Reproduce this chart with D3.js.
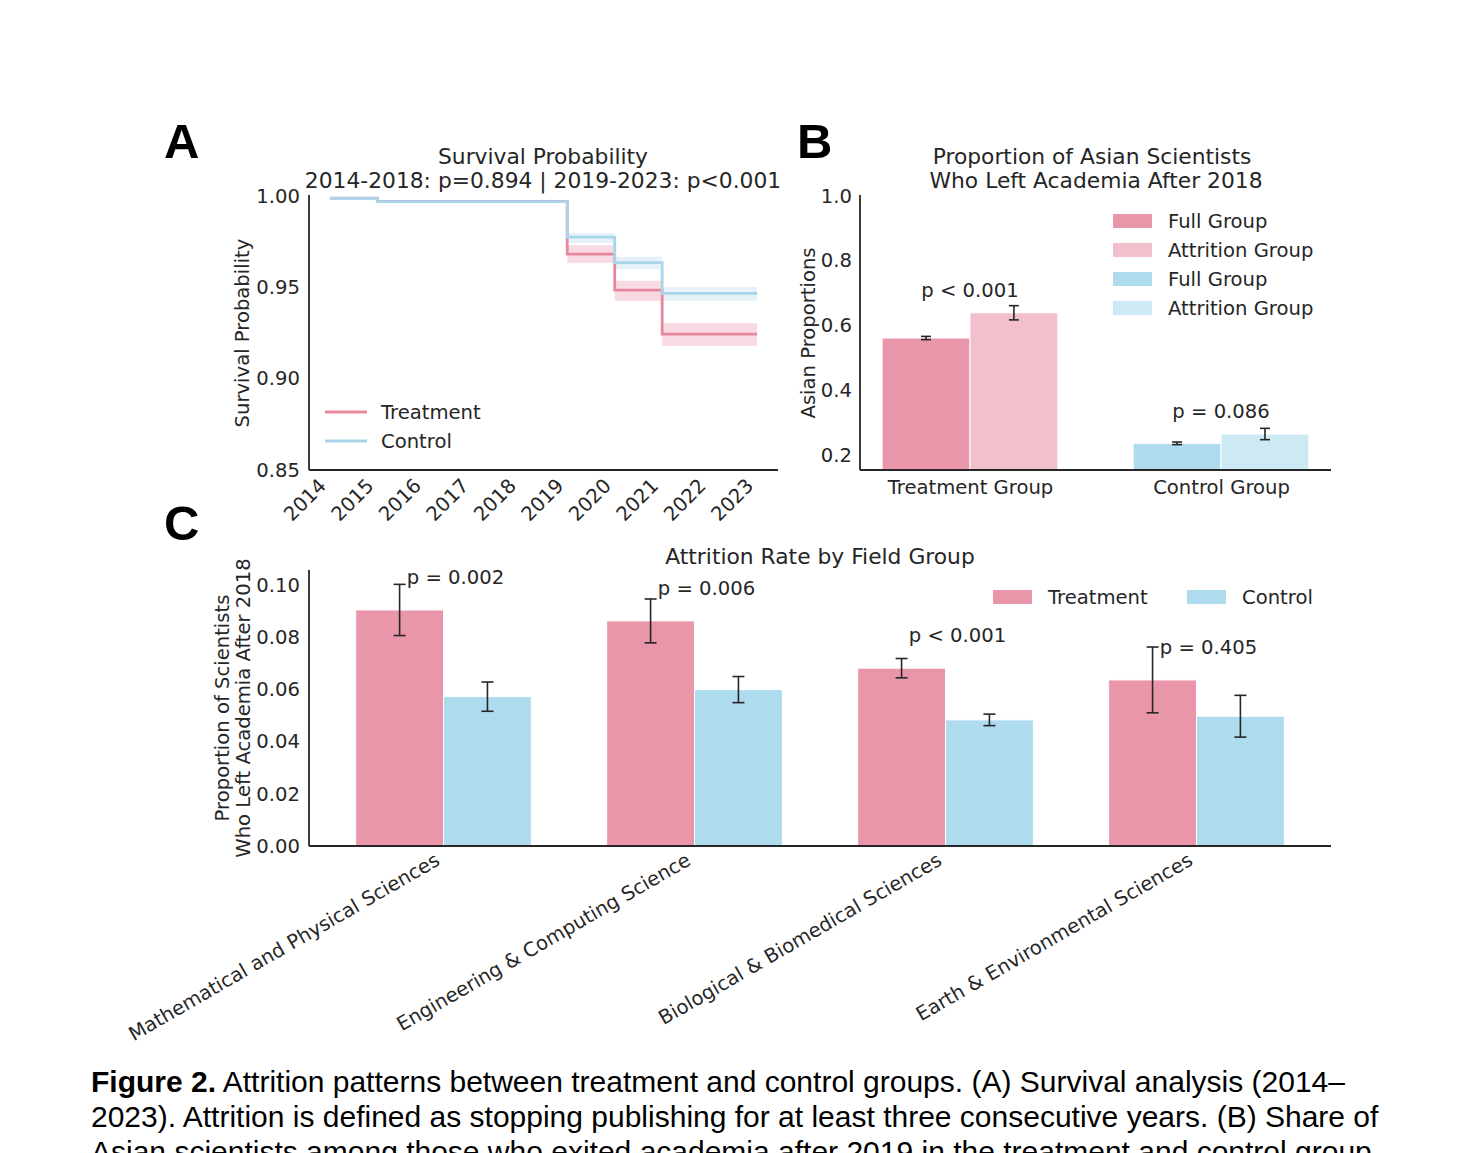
<!DOCTYPE html>
<html>
<head>
<meta charset="utf-8">
<script src="https://cdn.jsdelivr.net/npm/d3@7"></script>
<style>
  body { margin: 0; background: #fff; }
  svg text { font-family: "DejaVu Sans", sans-serif; fill: #262626; }
  svg text.caption { font-family: "Liberation Sans", Arial, sans-serif; fill: #000; }
  svg text.letter { font-family: "Liberation Sans", Arial, sans-serif; font-weight: bold; fill: #000; }
</style>
</head>
<body>
<script>
// ---- panel A: survival curves (step after each year) ----
const years = [2014, 2015, 2016, 2017, 2018, 2019, 2020, 2021, 2022, 2023]
const treatSurv = [0.9988, 0.9970, 0.9970, 0.9970, 0.9970, 0.9682, 0.9485, 0.9244, 0.9244, 0.9244]
const treatLo   = [0.9984, 0.9962, 0.9962, 0.9962, 0.9962, 0.9635, 0.9427, 0.9179, 0.9179, 0.9179]
const treatHi   = [0.9992, 0.9978, 0.9978, 0.9978, 0.9978, 0.9730, 0.9536, 0.9303, 0.9303, 0.9303]
const ctrlSurv  = [0.9987, 0.9969, 0.9969, 0.9969, 0.9969, 0.9775, 0.9635, 0.9467, 0.9467, 0.9467]
const ctrlLo    = [0.9984, 0.9964, 0.9964, 0.9964, 0.9964, 0.9743, 0.9599, 0.9427, 0.9427, 0.9427]
const ctrlHi    = [0.9990, 0.9974, 0.9974, 0.9974, 0.9974, 0.9797, 0.9668, 0.9502, 0.9502, 0.9502]
const survTicks = [0.85, 0.90, 0.95, 1.00]

// ---- panel B: asian share ----
const groupsB = ['Treatment Group', 'Control Group']
const fullProp = [0.561, 0.2355]
const fullErr = [0.005, 0.004]
const attrProp = [0.639, 0.2643]
const attrErr = [0.022, 0.0175]
const pLabelsB = ['p < 0.001', 'p = 0.086']
const propTicks = [0.2, 0.4, 0.6, 0.8, 1.0]

// ---- panel C: attrition by field ----
const fields = ['Mathematical and Physical Sciences', 'Engineering & Computing Science',
  'Biological & Biomedical Sciences', 'Earth & Environmental Sciences']
const treatRate = [0.0904, 0.0862, 0.0681, 0.0636]
const treatRateErr = [0.0098, 0.0084, 0.0037, 0.0126]
const ctrlRate = [0.0572, 0.0599, 0.0483, 0.0497]
const ctrlRateErr = [0.0056, 0.0050, 0.0022, 0.0080]
const pLabelsC = ['p = 0.002', 'p = 0.006', 'p < 0.001', 'p = 0.405']
const rateTicks = [0.00, 0.02, 0.04, 0.06, 0.08, 0.10]

const pink = '#e995aa', pinkLight = '#f2bfcc', blue = '#aedbee', blueLight = '#cde9f3'
const pinkLine = '#e8889f', blueLine = '#a9d5ea'
const ink = '#262626'
const fs = '19.6px', titleFs = '21.8px'

const svg = d3.select('body').append('svg')
    .attr('width', 1476)
    .attr('height', 1153)

svg.append('rect').attr('width', 1476).attr('height', 1153).attr('fill', '#fff')

// helper for axis styling: no tick marks, dark spine
function styleAxis(g) {
  g.select('.domain').attr('stroke', ink).attr('stroke-width', 1.8)
  g.selectAll('.tick line').remove()
  g.selectAll('.tick text').attr('fill', ink).style('font-size', fs)
    .style('font-family', '"DejaVu Sans", sans-serif')
}

function errBar(g, x, y0, y1, cap) {
  g.append('line').attr('x1', x).attr('x2', x).attr('y1', y0).attr('y2', y1)
    .attr('stroke', ink).attr('stroke-width', 1.6)
  ;[y0, y1].forEach(y => g.append('line').attr('x1', x - cap).attr('x2', x + cap)
    .attr('y1', y).attr('y2', y).attr('stroke', ink).attr('stroke-width', 1.6))
}

// panel letters
svg.append('text').attr('class', 'letter').attr('x', 164).attr('y', 158).attr('font-size', '49px').text('A')
svg.append('text').attr('class', 'letter').attr('x', 797).attr('y', 158).attr('font-size', '49px').text('B')
svg.append('text').attr('class', 'letter').attr('x', 164).attr('y', 540).attr('font-size', '49px').text('C')

// ================= panel A =================
const xA = d3.scaleLinear().domain([2013.56, 2023.44]).range([309, 778])
const yA = d3.scaleLinear().domain([0.85, 1.0]).range([470, 196])

const gA = svg.append('g')

const band = (lo, hi) => d3.area().curve(d3.curveStepAfter)
    .x((d, i) => xA(years[i])).y0((d, i) => yA(lo[i])).y1((d, i) => yA(hi[i]))
const stepLine = vals => d3.line().curve(d3.curveStepAfter)
    .x((d, i) => xA(years[i])).y((d, i) => yA(vals[i]))

gA.append('path').datum(years).attr('d', band(treatLo, treatHi)).attr('fill', pinkLine).attr('opacity', 0.3)
gA.append('path').datum(years).attr('d', band(ctrlLo, ctrlHi)).attr('fill', blueLine).attr('opacity', 0.3)
gA.append('path').datum(years).attr('d', stepLine(treatSurv))
    .attr('fill', 'none').attr('stroke', pinkLine).attr('stroke-width', 2.8)
gA.append('path').datum(years).attr('d', stepLine(ctrlSurv))
    .attr('fill', 'none').attr('stroke', blueLine).attr('stroke-width', 2.8)

const yAxisA = gA.append('g').attr('transform', 'translate(309,0)')
    .call(d3.axisLeft(yA).tickValues(survTicks).tickFormat(d3.format('.2f')).tickSize(0).tickPadding(9))
styleAxis(yAxisA)
yAxisA.select('.domain').attr('d', 'M0,470V195')

const xAxisA = gA.append('g').attr('transform', 'translate(0,470)')
    .call(d3.axisBottom(xA).tickValues(years).tickFormat(d3.format('d')).tickSize(0))
styleAxis(xAxisA)
xAxisA.select('.domain').attr('d', 'M309,0H778')
xAxisA.selectAll('.tick text')
    .attr('x', 0).attr('y', 0).attr('dy', 0)
    .attr('text-anchor', 'end')
    .attr('transform', 'translate(-3,17) rotate(-45)')

gA.append('text').attr('x', 543).attr('y', 164).attr('text-anchor', 'middle')
    .attr('font-size', titleFs).text('Survival Probability')
gA.append('text').attr('x', 543).attr('y', 188).attr('text-anchor', 'middle')
    .attr('font-size', titleFs).text('2014-2018: p=0.894 | 2019-2023: p<0.001')
gA.append('text').attr('transform', 'translate(249,333) rotate(-90)').attr('text-anchor', 'middle')
    .attr('font-size', fs).text('Survival Probability')

// legend A
;[['Treatment', pinkLine, 412], ['Control', blueLine, 441]].forEach(([lab, col, y]) => {
  gA.append('line').attr('x1', 325).attr('x2', 367).attr('y1', y).attr('y2', y)
    .attr('stroke', col).attr('stroke-width', 2.8)
  gA.append('text').attr('x', 381).attr('y', y + 7).attr('font-size', fs).text(lab)
})

// ================= panel B =================
const xB = d3.scaleLinear().domain([-0.438, 1.438]).range([860, 1331])
const yB = d3.scaleLinear().domain([0.153, 1.0]).range([470, 196])
const bw = 0.35
const gB = svg.append('g')

groupsB.forEach((grp, i) => {
  const cFull = i === 0 ? pink : blue
  const cAttr = i === 0 ? pinkLight : blueLight
  gB.append('rect').attr('x', xB(i - bw)).attr('width', xB(bw) - xB(0))
    .attr('y', yB(fullProp[i])).attr('height', yB(0.153) - yB(fullProp[i]))
    .attr('fill', cFull).attr('stroke', '#fff').attr('stroke-width', 1)
  gB.append('rect').attr('x', xB(i)).attr('width', xB(bw) - xB(0))
    .attr('y', yB(attrProp[i])).attr('height', yB(0.153) - yB(attrProp[i]))
    .attr('fill', cAttr).attr('stroke', '#fff').attr('stroke-width', 1)
  errBar(gB, xB(i - bw / 2), yB(fullProp[i] + fullErr[i]), yB(fullProp[i] - fullErr[i]), 5)
  errBar(gB, xB(i + bw / 2), yB(attrProp[i] + attrErr[i]), yB(attrProp[i] - attrErr[i]), 5)
  gB.append('text').attr('x', xB(i)).attr('y', yB(Math.max(fullProp[i], attrProp[i]) + 0.05))
    .attr('text-anchor', 'middle').attr('font-size', fs).text(pLabelsB[i])
})

const yAxisB = gB.append('g').attr('transform', 'translate(860,0)')
    .call(d3.axisLeft(yB).tickValues(propTicks).tickFormat(d3.format('.1f')).tickSize(0).tickPadding(8))
styleAxis(yAxisB)
yAxisB.select('.domain').attr('d', 'M0,470V195')

const xAxisB = gB.append('g').attr('transform', 'translate(0,470)')
    .call(d3.axisBottom(xB).tickValues([0, 1]).tickFormat(i => groupsB[i]).tickSize(0).tickPadding(10))
styleAxis(xAxisB)
xAxisB.select('.domain').attr('d', 'M860,0H1331')

gB.append('text').attr('x', 1092).attr('y', 164).attr('text-anchor', 'middle')
    .attr('font-size', titleFs).text('Proportion of Asian Scientists')
gB.append('text').attr('x', 1096).attr('y', 188).attr('text-anchor', 'middle')
    .attr('font-size', titleFs).text('Who Left Academia After 2018')
gB.append('text').attr('transform', 'translate(815,333) rotate(-90)').attr('text-anchor', 'middle')
    .attr('font-size', fs).text('Asian Proportions')

// legend B
const legB = [['Full Group', pink], ['Attrition Group', pinkLight], ['Full Group', blue], ['Attrition Group', blueLight]]
legB.forEach(([lab, col], i) => {
  const y = 221 + i * 29
  gB.append('rect').attr('x', 1113).attr('y', y - 7).attr('width', 39).attr('height', 14).attr('fill', col)
  gB.append('text').attr('x', 1168).attr('y', y + 7).attr('font-size', fs).text(lab)
})

// ================= panel C =================
const xC = d3.scaleLinear().domain([-0.536, 3.536]).range([309, 1331])
const yC = d3.scaleLinear().domain([0, 0.1057]).range([846, 570])
const gC = svg.append('g')

fields.forEach((f, i) => {
  gC.append('rect').attr('x', xC(i - bw)).attr('width', xC(bw) - xC(0))
    .attr('y', yC(treatRate[i])).attr('height', yC(0) - yC(treatRate[i]))
    .attr('fill', pink).attr('stroke', '#fff').attr('stroke-width', 1)
  gC.append('rect').attr('x', xC(i)).attr('width', xC(bw) - xC(0))
    .attr('y', yC(ctrlRate[i])).attr('height', yC(0) - yC(ctrlRate[i]))
    .attr('fill', blue).attr('stroke', '#fff').attr('stroke-width', 1)
  errBar(gC, xC(i - bw / 2), yC(treatRate[i] + treatRateErr[i]), yC(treatRate[i] - treatRateErr[i]), 6)
  errBar(gC, xC(i + bw / 2), yC(ctrlRate[i] + ctrlRateErr[i]), yC(ctrlRate[i] - ctrlRateErr[i]), 6)
  gC.append('text').attr('x', xC(i) + 12).attr('y', yC(treatRate[i] + 0.01))
    .attr('text-anchor', 'middle').attr('font-size', fs).text(pLabelsC[i])
})

const yAxisC = gC.append('g').attr('transform', 'translate(309,0)')
    .call(d3.axisLeft(yC).tickValues(rateTicks).tickFormat(d3.format('.2f')).tickSize(0).tickPadding(9))
styleAxis(yAxisC)
yAxisC.select('.domain').attr('d', 'M0,846V570')

const xAxisC = gC.append('g').attr('transform', 'translate(0,846)')
    .call(d3.axisBottom(xC).tickValues([0, 1, 2, 3]).tickFormat(i => fields[i]).tickSize(0))
styleAxis(xAxisC)
xAxisC.select('.domain').attr('d', 'M309,0H1331')
xAxisC.selectAll('.tick text')
    .attr('x', 0).attr('y', 0).attr('dy', 0)
    .attr('text-anchor', 'end')
    .attr('transform', 'translate(-3,18) rotate(-30)')

gC.append('text').attr('x', 820).attr('y', 564).attr('text-anchor', 'middle')
    .attr('font-size', titleFs).text('Attrition Rate by Field Group')
gC.append('text').attr('transform', 'translate(229,708) rotate(-90)').attr('text-anchor', 'middle')
    .attr('font-size', fs).text('Proportion of Scientists')
gC.append('text').attr('transform', 'translate(250,708) rotate(-90)').attr('text-anchor', 'middle')
    .attr('font-size', fs).text('Who Left Academia After 2018')

// legend C
;[['Treatment', pink, 993], ['Control', blue, 1187]].forEach(([lab, col, x]) => {
  gC.append('rect').attr('x', x).attr('y', 590).attr('width', 39).attr('height', 14).attr('fill', col)
  gC.append('text').attr('x', x + 55).attr('y', 604).attr('font-size', fs).text(lab)
})

// ================= caption =================
const cap = svg.append('text').attr('class', 'caption').attr('x', 91).attr('y', 1092).attr('font-size', '30px')
cap.append('tspan').attr('font-weight', 'bold').text('Figure 2.')
cap.append('tspan').text(' Attrition patterns between treatment and control groups. (A) Survival analysis (2014–')
svg.append('text').attr('class', 'caption').attr('x', 91).attr('y', 1127).attr('font-size', '30px')
    .text('2023). Attrition is defined as stopping publishing for at least three consecutive years. (B) Share of')
svg.append('text').attr('class', 'caption').attr('x', 91).attr('y', 1162).attr('font-size', '30px')
    .text('Asian scientists among those who exited academia after 2019 in the treatment and control group')
</script>
</body>
</html>
